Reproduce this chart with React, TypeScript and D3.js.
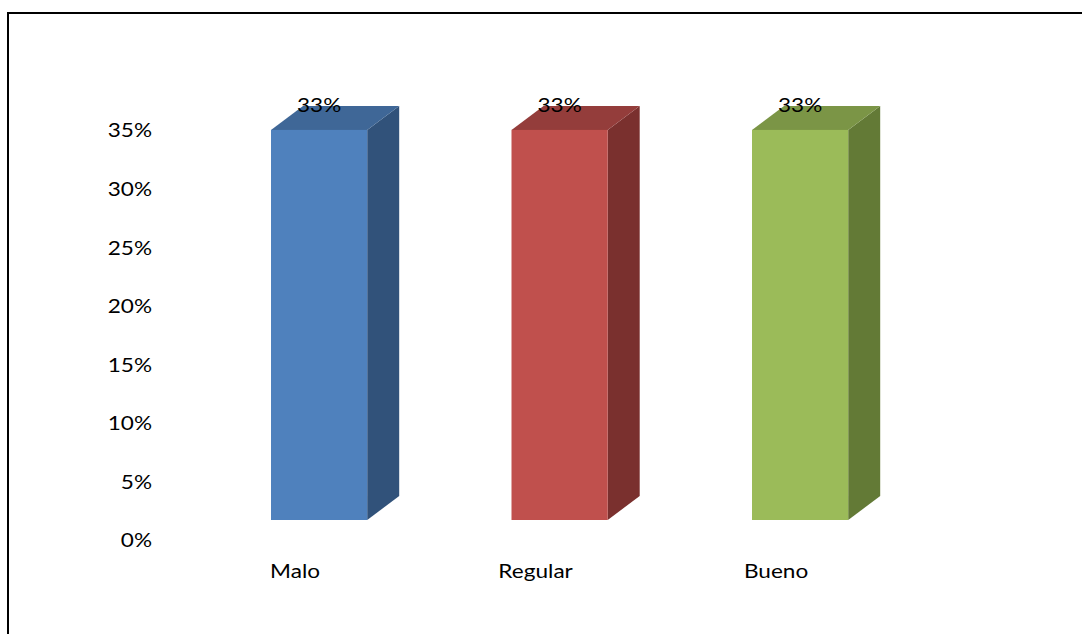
import React from "react";
import * as d3 from "d3";

const categories = ["Malo", "Regular", "Bueno"];
const values = [0.333, 0.333, 0.333];
const valueLabels = ["33%", "33%", "33%"];
const yTicks = [0, 0.05, 0.1, 0.15, 0.2, 0.25, 0.3, 0.35];
const frontColors = ["#4F81BD", "#C0504D", "#9BBB59"];
const topColors = ["#3F6797", "#943D3B", "#7B9546"];
const sideColors = ["#31527A", "#7A302E", "#637A36"];

const W = 1082;
const H = 634;
const DX = 32;
const DY = 24;
const FLOOR = 20;
const FONT = "Lato, 'Open Sans', sans-serif";
const SX = 1.13;

function T(props: { x: number; y: number; anchor: string; baseline?: string; children: React.ReactNode }) {
  return (
    <text
      transform={`translate(${props.x},${props.y}) scale(${SX},1)`}
      textAnchor={props.anchor}
      dominantBaseline={props.baseline}
      fontFamily={FONT}
      fontSize={20}
      fill="#000"
    >
      {props.children}
    </text>
  );
}

export default function App() {
  const x = d3
    .scaleBand<string>()
    .domain(categories)
    .range([150.75, 968.45])
    .paddingInner(0.6)
    .paddingOuter(0.5);
  const y = d3.scaleLinear().domain([0, 0.35]).range([540, 130]);
  const bw = x.bandwidth();

  return (
    <svg
      width={W}
      height={H}
      style={{ position: "absolute", left: 0, top: 0, background: "#fff" }}
    >
      <rect x={8} y={13} width={1200} height={800} fill="none" stroke="#000" strokeWidth={2} />
      {yTicks.map((t) => (
        <T key={t} x={152} y={y(t)} anchor="end" baseline="central">
          {d3.format(".0%")(t)}
        </T>
      ))}
      {categories.map((c, i) => {
        const x0 = x(c)!;
        const x1 = x0 + bw;
        const yb = y(0) - FLOOR;
        const yt = y(values[i]) - FLOOR;
        const top = `M${x0},${yt} L${x0 + DX},${yt - DY} L${x1 + DX},${yt - DY} L${x1},${yt} Z`;
        const side = `M${x1},${yt} L${x1 + DX},${yt - DY} L${x1 + DX},${yb - DY} L${x1},${yb} Z`;
        return (
          <g key={c}>
            <path d={side} fill={sideColors[i]} />
            <path d={top} fill={topColors[i]} />
            <rect x={x0} y={yt} width={bw} height={yb - yt} fill={frontColors[i]} />
          </g>
        );
      })}
      {categories.map((c, i) => (
        <T key={"v" + c} x={x(c)! + bw / 2} y={112} anchor="middle">
          {valueLabels[i]}
        </T>
      ))}
      {categories.map((c) => (
        <T key={"c" + c} x={x(c)! + bw / 2 - 24} y={578} anchor="middle">
          {c}
        </T>
      ))}
    </svg>
  );
}
